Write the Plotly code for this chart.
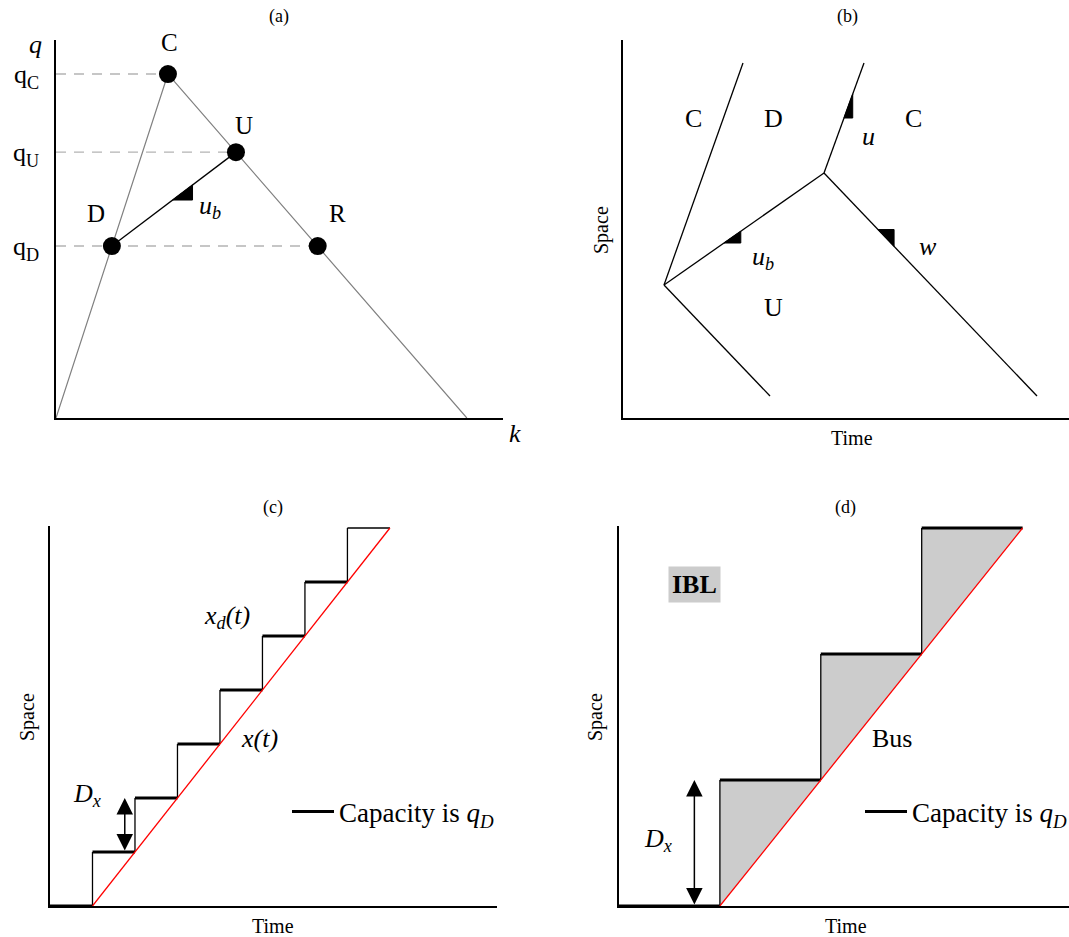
import plotly.graph_objects as go

W, H = 1069, 937
FONT = "Liberation Serif"

# ---------------- panel (a): fundamental diagram ----------------
fd_k = [0.0, 0.2725, 1.0]
fd_q = [0.0, 1.0, 0.0]
state_names = ["D", "U", "C", "R"]
state_k = [0.136, 0.438, 0.2725, 0.637]
state_q = [0.5, 0.773, 1.0, 0.5]
q_tick_vals = [0.5, 0.773, 1.0]
q_tick_text = ["q<sub>D</sub>", "q<sub>U</sub>", "q<sub>C</sub>"]

# ---------------- panel (b): waves in time-space ----------------
b_wave_t0 = [0.41, 0.41, 0.41, 2.01, 2.01]
b_wave_s0 = [1.33, 1.33, 1.33, 2.45, 2.45]
b_wave_t1 = [1.20, 1.47, 2.01, 2.41, 4.14]
b_wave_s1 = [3.55, 0.22, 2.45, 3.55, 0.22]
b_region_labels = ["C", "D", "C", "U"]
b_region_t = [0.70, 1.50, 2.90, 1.50]
b_region_s = [2.99, 2.99, 2.99, 1.10]

# ---------------- panel (c): bus trajectory, many stops ----------------
c_jump_t = [1, 2, 3, 4, 5, 6, 7]
c_end_t = 8
c_levels = [0, 1, 2, 3, 4, 5, 6, 7]
c_bus_t = [1, 8]
c_bus_s = [0, 7]

# ---------------- panel (d): bus trajectory, IBL ----------------
d_jump_t = [1, 2, 3]
d_end_t = 4
d_levels = [0, 1, 2, 3]
d_bus_t = [1, 4]
d_bus_s = [0, 3]

fig = go.Figure()


def dom_x(p0, p1):
    return [p0 / W, p1 / W]


def dom_y(top, bot):
    return [1 - bot / H, 1 - top / H]


def slope_tri(t0, s0, t1, s1, f1, f2):
    x1, y1 = t0 + f1 * (t1 - t0), s0 + f1 * (s1 - s0)
    x2, y2 = t0 + f2 * (t1 - t0), s0 + f2 * (s1 - s0)
    return [x1, x2, x2, x1], [y1, y2, y1, y1]


def tri_trace(xs, ys, xa, ya):
    return go.Scatter(x=xs, y=ys, mode="lines", fill="toself", fillcolor="black",
                      line=dict(color="black", width=1), xaxis=xa, yaxis=ya,
                      showlegend=False, hoverinfo="skip")


# ---- (a) traces
fig.add_trace(go.Scatter(x=fd_k, y=fd_q, mode="lines", line=dict(color="#808080", width=1.2),
                         xaxis="x", yaxis="y", showlegend=False))
for qv in sorted(set(state_q)):
    kmax = max(k for k, q in zip(state_k, state_q) if q == qv)
    fig.add_trace(go.Scatter(x=[0, kmax], y=[qv, qv], mode="lines",
                             line=dict(color="#b4b4b4", width=1.4, dash="10px,8px"),
                             xaxis="x", yaxis="y", showlegend=False))
iD, iU = state_names.index("D"), state_names.index("U")
fig.add_trace(go.Scatter(x=[state_k[iD], state_k[iU]], y=[state_q[iD], state_q[iU]], mode="lines",
                         line=dict(color="black", width=1.3), xaxis="x", yaxis="y", showlegend=False))
tx, ty = slope_tri(state_k[iD], state_q[iD], state_k[iU], state_q[iU], 0.49, 0.65)
fig.add_trace(tri_trace(tx, ty, "x", "y"))
fig.add_trace(go.Scatter(x=state_k, y=state_q, mode="markers",
                         marker=dict(color="black", size=18), xaxis="x", yaxis="y", showlegend=False))

# ---- (b) traces
bx, by = [], []
for t0, s0, t1, s1 in zip(b_wave_t0, b_wave_s0, b_wave_t1, b_wave_s1):
    bx += [t0, t1, None]
    by += [s0, s1, None]
fig.add_trace(go.Scatter(x=bx, y=by, mode="lines", line=dict(color="black", width=1.3),
                         xaxis="x2", yaxis="y2", showlegend=False))
for idx, f1, f2 in [(2, 0.375, 0.48), (3, 0.5, 0.718), (4, 0.2535, 0.329)]:
    tx, ty = slope_tri(b_wave_t0[idx], b_wave_s0[idx], b_wave_t1[idx], b_wave_s1[idx], f1, f2)
    fig.add_trace(tri_trace(tx, ty, "x2", "y2"))


# ---- (c) & (d) step traces
def steps(jump_t, end_t, levels, xa, ya, top_thick, legend_name, fill):
    starts = [0] + jump_t
    ends = jump_t + [end_t]
    if fill:
        for i, t in enumerate(jump_t):
            fig.add_trace(go.Scatter(x=[t, t, ends[i + 1], t], y=[levels[i], levels[i + 1], levels[i + 1], levels[i]],
                                     mode="lines", fill="toself", fillcolor="#cccccc",
                                     line=dict(width=0, color="#cccccc"), xaxis=xa, yaxis=ya,
                                     showlegend=False, hoverinfo="skip"))
    vx, vy = [], []
    for i, t in enumerate(jump_t):
        vx += [t, t, None]
        vy += [levels[i], levels[i + 1], None]
    fig.add_trace(go.Scatter(x=vx, y=vy, mode="lines", line=dict(color="black", width=1.3),
                             xaxis=xa, yaxis=ya, showlegend=False))
    hx, hy, thx, thy = [], [], [], []
    for i in range(len(starts)):
        if i == len(starts) - 1 and not top_thick:
            thx += [starts[i], ends[i], None]
            thy += [levels[i], levels[i], None]
        else:
            hx += [starts[i], ends[i], None]
            hy += [levels[i], levels[i], None]
    if thx:
        fig.add_trace(go.Scatter(x=thx, y=thy, mode="lines", line=dict(color="black", width=1.3),
                                 xaxis=xa, yaxis=ya, showlegend=False))
    fig.add_trace(go.Scatter(x=hx, y=hy, mode="lines", line=dict(color="black", width=3),
                             xaxis=xa, yaxis=ya, name="Capacity is <i>q<sub>D</sub></i>",
                             showlegend=True, legend=legend_name))


steps(c_jump_t, c_end_t, c_levels, "x3", "y3", False, "legend", False)
fig.add_trace(go.Scatter(x=c_bus_t, y=c_bus_s, mode="lines", line=dict(color="red", width=1.3),
                         xaxis="x3", yaxis="y3", showlegend=False))
steps(d_jump_t, d_end_t, d_levels, "x4", "y4", True, "legend2", True)
fig.add_trace(go.Scatter(x=d_bus_t, y=d_bus_s, mode="lines", line=dict(color="red", width=1.3),
                         xaxis="x4", yaxis="y4", showlegend=False))

# ---------------- annotations ----------------
ann = []


def txt(x, y, text, xref, yref, size=26, **kw):
    d = dict(x=x, y=y, text=text, xref=xref, yref=yref, showarrow=False,
             xanchor="center", yanchor="middle",
             font=dict(family=FONT, size=size, color="black"))
    d.update(kw)
    ann.append(d)


def ptxt(px, py, text, size, **kw):
    txt(px / W, 1 - py / H, text, "paper", "paper", size=size, **kw)


# panel titles
for label, px, py in [("(a)", 279, 17), ("(b)", 847, 17), ("(c)", 273, 507), ("(d)", 845, 507)]:
    ptxt(px, py, label, 18)
# axis titles
for label, px, py, ang in [("Space", 601, 230, -90), ("Time", 852, 438, 0),
                           ("Space", 27, 717, -90), ("Time", 273, 926, 0),
                           ("Space", 595, 717, -90), ("Time", 846, 926, 0)]:
    ptxt(px, py, label, 20, textangle=ang)
# (a) axis symbols
ptxt(35, 44, "<i>q</i>", 26)
ptxt(515, 433, "<i>k</i>", 26)

# (a)
offsets = {"D": (-16, 33), "U": (8, 27), "C": (2, 32), "R": (20, 33)}
for n, k, q in zip(state_names, state_k, state_q):
    txt(k, q, n, "x", "y", size=25, xshift=offsets[n][0], yshift=offsets[n][1])
txt(0.375, 0.613, "<i>u<sub>b</sub></i>", "x", "y")

# (b)
for n, t, s in zip(b_region_labels, b_region_t, b_region_s):
    txt(t, s, n, "x2", "y2", size=26)
txt(2.45, 2.81, "<i>u</i>", "x2", "y2")
txt(3.05, 1.71, "<i>w</i>", "x2", "y2")
txt(1.40, 1.60, "<i>u<sub>b</sub></i>", "x2", "y2")

# (c)
txt(4.16, 5.35, "<i>x<sub>d</sub>(t)</i>", "x3", "y3")
txt(4.92, 3.11, "<i>x(t)</i>", "x3", "y3")
txt(0.87, 2.06, "<i>D<sub>x</sub></i>", "x3", "y3")
ann.append(dict(x=1.76, y=c_levels[2], ax=1.76, ay=c_levels[1], xref="x3", yref="y3",
                axref="x3", ayref="y3", text="", showarrow=True, arrowhead=2, arrowside="end+start",
                arrowsize=2.2, arrowwidth=1.5, arrowcolor="black", standoff=0, startstandoff=0))

# (d)
txt(0.387, 0.524, "<i>D<sub>x</sub></i>", "x4", "y4")
txt(2.71, 1.33, "Bus", "x4", "y4")
txt(0.749, 2.55, "<b>IBL</b>", "x4", "y4", bgcolor="#cccccc", borderpad=3)
ann.append(dict(x=0.747, y=d_levels[1], ax=0.747, ay=d_levels[0], xref="x4", yref="y4",
                axref="x4", ayref="y4", text="", showarrow=True, arrowhead=2, arrowside="end+start",
                arrowsize=2.2, arrowwidth=1.5, arrowcolor="black", standoff=0, startstandoff=0))

base_ax = dict(showgrid=False, zeroline=False, showticklabels=False, ticks="",
               showline=True, linecolor="black", linewidth=1.5, fixedrange=True)

legend_style = dict(xanchor="left", yanchor="middle", itemwidth=42,
                    bgcolor="rgba(0,0,0,0)", font=dict(family=FONT, size=27, color="black"))

fig.update_layout(
    width=W, height=H, margin=dict(l=0, r=0, t=0, b=0, autoexpand=False),
    paper_bgcolor="white", plot_bgcolor="white",
    font=dict(family=FONT, color="black"),
    xaxis=dict(base_ax, domain=dom_x(56, 503), range=[0, 1.088], anchor="y"),
    yaxis=dict(base_ax, domain=dom_y(40, 418), range=[0, 1.099], anchor="x",
               showticklabels=True, tickvals=q_tick_vals, ticktext=q_tick_text,
               tickfont=dict(family=FONT, size=26, color="black"), ticklabelstandoff=10),
    xaxis2=dict(base_ax, domain=dom_x(623, 1069), range=[0, 4.46], anchor="y2"),
    yaxis2=dict(base_ax, domain=dom_y(40, 418), range=[0, 3.78], anchor="x2"),
    xaxis3=dict(base_ax, domain=dom_x(50, 497), range=[0, 10.52], anchor="y3"),
    yaxis3=dict(base_ax, domain=dom_y(526, 906), range=[0, 7.037], anchor="x3"),
    xaxis4=dict(base_ax, domain=dom_x(619, 1069), range=[0, 4.46], anchor="y4"),
    yaxis4=dict(base_ax, domain=dom_y(526, 906), range=[0, 3.016], anchor="x4"),
    legend=dict(legend_style, x=287 / W, y=1 - 812 / H),
    legend2=dict(legend_style, x=860 / W, y=1 - 812 / H),
    annotations=ann,
    showlegend=True,
)

fig.write_html("out.html", config={"displayModeBar": False},
               post_script="document.body.style.margin='0';document.body.style.overflow='hidden';")
